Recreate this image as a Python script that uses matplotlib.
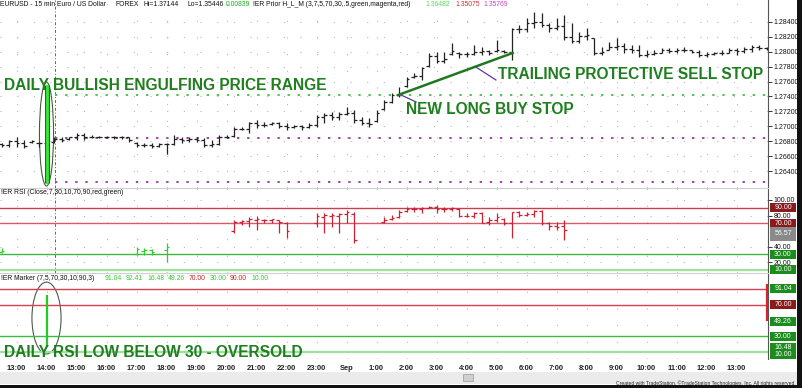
import numpy as np
import matplotlib
matplotlib.use("Agg")
import matplotlib.pyplot as plt
from matplotlib.patches import Ellipse, Rectangle
from matplotlib.transforms import blended_transform_factory

plt.rcParams['font.family'] = ['Liberation Sans', 'DejaVu Sans']

# x axis is hours after 13:00, one bar every 15 minutes, first bar at 12:30
hour_labels = ['13:00', '14:00', '15:00', '16:00', '17:00', '18:00', '19:00', '20:00',
               '21:00', '22:00', '23:00', 'Sep', '1:00', '2:00', '3:00', '4:00', '5:00',
               '6:00', '7:00', '8:00', '9:00', '10:00', '11:00', '12:00', '13:00']

price_open = [1.2676, 1.2675, 1.2680, 1.2678, 1.2679, 1.2678, 1.2677, 1.2679, 1.2683, 1.2683,
              1.2685, 1.2688, 1.2685, 1.2686, 1.2686, 1.2686, 1.2685, 1.2686, 1.2678, 1.2675,
              1.2675, 1.2674, 1.2676, 1.2676, 1.2683, 1.2682, 1.2683, 1.2682, 1.2675, 1.2676,
              1.2686, 1.2687, 1.2697, 1.2697, 1.2704, 1.2702, 1.2703, 1.2704, 1.2701, 1.2699,
              1.2700, 1.2699, 1.2702, 1.2713, 1.2715, 1.2713, 1.2716, 1.2718, 1.2708, 1.2705,
              1.2707, 1.2723, 1.2732, 1.2742, 1.2754, 1.2766, 1.2768, 1.2781, 1.2795, 1.2788,
              1.2797, 1.2799, 1.2797, 1.2797, 1.2800, 1.2801, 1.2801, 1.2801, 1.2800, 1.2830,
              1.2830, 1.2838, 1.2840, 1.2836, 1.2832, 1.2835, 1.2820, 1.2815, 1.2821, 1.2818,
              1.2798, 1.2803, 1.2806, 1.2808, 1.2804, 1.2803, 1.2796, 1.2797, 1.2799, 1.2802,
              1.2801, 1.2802, 1.2802, 1.2800, 1.2796, 1.2797, 1.2798, 1.2799, 1.2802, 1.2801,
              1.2804, 1.2806, 1.2805]
price_high = [1.2678, 1.2682, 1.2686, 1.2682, 1.2682, 1.2679, 1.2679, 1.2686, 1.2686, 1.2686,
              1.2691, 1.2691, 1.2688, 1.2687, 1.2687, 1.2687, 1.2687, 1.2686, 1.2679, 1.2678,
              1.2678, 1.2678, 1.2678, 1.2688, 1.2686, 1.2686, 1.2686, 1.2684, 1.2682, 1.2688,
              1.2688, 1.2699, 1.2699, 1.2706, 1.2709, 1.2706, 1.2706, 1.2706, 1.2705, 1.2702,
              1.2702, 1.2705, 1.2715, 1.2718, 1.2719, 1.2719, 1.2726, 1.2722, 1.2713, 1.2711,
              1.2722, 1.2735, 1.2745, 1.2753, 1.2766, 1.2772, 1.2780, 1.2798, 1.2800, 1.2800,
              1.2812, 1.2800, 1.2800, 1.2809, 1.2806, 1.2802, 1.2816, 1.2802, 1.2832, 1.2836,
              1.2845, 1.2853, 1.2852, 1.2839, 1.2845, 1.2849, 1.2839, 1.2827, 1.2832, 1.2819,
              1.2806, 1.2813, 1.2819, 1.2812, 1.2809, 1.2809, 1.2802, 1.2802, 1.2805, 1.2805,
              1.2805, 1.2806, 1.2802, 1.2802, 1.2800, 1.2800, 1.2802, 1.2805, 1.2805, 1.2806,
              1.2809, 1.2809, 1.2806]
price_low = [1.2672, 1.2672, 1.2672, 1.2671, 1.2678, 1.2672, 1.2675, 1.2678, 1.2679, 1.2682,
             1.2682, 1.2682, 1.2684, 1.2684, 1.2684, 1.2683, 1.2683, 1.2679, 1.2672, 1.2672,
             1.2671, 1.2672, 1.2663, 1.2675, 1.2678, 1.2679, 1.2679, 1.2672, 1.2672, 1.2675,
             1.2684, 1.2686, 1.2695, 1.2691, 1.2698, 1.2699, 1.2702, 1.2698, 1.2695, 1.2698,
             1.2695, 1.2698, 1.2699, 1.2705, 1.2709, 1.2709, 1.2715, 1.2705, 1.2702, 1.2699,
             1.2706, 1.2722, 1.2731, 1.2739, 1.2753, 1.2765, 1.2762, 1.2780, 1.2785, 1.2785,
             1.2796, 1.2792, 1.2793, 1.2796, 1.2796, 1.2796, 1.2800, 1.2798, 1.2789, 1.2825,
             1.2827, 1.2832, 1.2833, 1.2827, 1.2829, 1.2816, 1.2812, 1.2812, 1.2816, 1.2796,
             1.2796, 1.2802, 1.2802, 1.2798, 1.2798, 1.2793, 1.2793, 1.2796, 1.2798, 1.2798,
             1.2798, 1.2800, 1.2798, 1.2793, 1.2793, 1.2796, 1.2796, 1.2798, 1.2796, 1.2798,
             1.2800, 1.2802, 1.2802]
price_close = [1.2675, 1.2680, 1.2678, 1.2674, 1.2680, 1.2677, 1.2677, 1.2683, 1.2682, 1.2685,
               1.2688, 1.2685, 1.2686, 1.2686, 1.2686, 1.2685, 1.2686, 1.2681, 1.2675, 1.2675,
               1.2674, 1.2676, 1.2676, 1.2683, 1.2682, 1.2683, 1.2682, 1.2675, 1.2676, 1.2686,
               1.2686, 1.2697, 1.2697, 1.2704, 1.2702, 1.2702, 1.2704, 1.2701, 1.2699, 1.2700,
               1.2699, 1.2702, 1.2713, 1.2715, 1.2713, 1.2716, 1.2718, 1.2708, 1.2705, 1.2703,
               1.2718, 1.2732, 1.2742, 1.2744, 1.2764, 1.2768, 1.2778, 1.2795, 1.2788, 1.2790,
               1.2801, 1.2797, 1.2797, 1.2800, 1.2801, 1.2799, 1.2802, 1.2800, 1.2830, 1.2830,
               1.2838, 1.2840, 1.2836, 1.2832, 1.2835, 1.2820, 1.2815, 1.2821, 1.2822, 1.2798,
               1.2800, 1.2806, 1.2808, 1.2804, 1.2803, 1.2796, 1.2797, 1.2799, 1.2802, 1.2801,
               1.2802, 1.2803, 1.2800, 1.2796, 1.2797, 1.2798, 1.2799, 1.2802, 1.2801, 1.2804,
               1.2806, 1.2805, 1.2804]

# prior day levels (H / mid / L) and the engulfing day range
prior_high = 1.27420
prior_mid = 1.26843
prior_low = 1.26253
engulf_range = (1.26239, 1.27554)
buy_stop = (12.72, 1.27420)
trail_end = (16.54, 1.27984)

# ER RSI, only extreme bars are painted
rsi_idx = [0, 18, 19, 20, 22, 31, 32, 33, 34, 35, 36, 37, 38, 42, 43, 44, 45, 46, 47,
           51, 52, 53, 54, 55, 56, 57, 58, 59, 60, 61, 62, 63, 64, 65, 66, 67, 68, 69, 70,
           71, 72, 73, 74, 75]
rsi_open = [33, 31, 34, 36, 36, 60, 72, 73, 74, 74, 74, 74, 70, 70, 78, 80, 80, 82, 82,
            72, 75, 78, 86, 88, 88, 90, 91, 88, 89, 88, 80, 80, 83, 72, 74, 76, 70, 84, 81,
            82, 86, 70, 67, 66]
rsi_high = [38.3, 39.6, 38.3, 37.0, 44.7, 74.3, 74.3, 78.1, 79.4, 75.6, 75.6, 74.3, 71.7,
            83.3, 83.3, 83.3, 83.3, 87.1, 84.6, 78.1, 80.7, 87.1, 91.0, 91.0, 91.0, 92.3,
            93.6, 91.0, 91.0, 89.7, 83.3, 84.6, 84.6, 78.1, 83.3, 76.9, 84.6, 85.9, 84.6,
            87.1, 87.1, 71.7, 71.7, 74.3]
rsi_low = [31.9, 29.3, 29.3, 29.3, 20.3, 57.6, 67.9, 65.3, 61.4, 70.4, 70.4, 57.6, 51.2,
           65.3, 57.6, 65.3, 57.6, 70.4, 44.7, 70.4, 74.3, 76.9, 84.6, 84.6, 83.3, 89.7,
           83.3, 84.6, 85.9, 78.1, 78.1, 76.9, 70.4, 67.9, 71.7, 67.9, 51.2, 78.1, 79.4,
           78.1, 67.9, 61.4, 61.4, 48.6]
rsi_close = [35, 37, 36, 33, 40, 72, 73, 76, 76, 74, 75, 72, 60, 80, 81, 81, 82, 84, 48,
             74, 77, 85, 88, 88, 90, 91, 88, 89, 90, 79, 80, 83, 71, 74, 78, 70, 84, 81, 82,
             86, 70, 67, 65, 62]
rsi_green = [True] * 5 + [False] * 39

# ER Marker
marker_idx = [6, 102]
marker_high = [82.0, 96.0]
marker_low = [16.48, 49.26]
marker_col = ['#22cc22', '#dd2233']

t = -0.5 + 0.25 * np.arange(len(price_close))

W, H = 802, 388
fig = plt.figure(figsize=(W / 100, H / 100), dpi=100)
fig.patch.set_facecolor('white')


def fx(x):
    return x / W


def fy(y):
    return 1 - y / H


ax_p = fig.add_axes([0, fy(188), fx(768), 188 / H])
ax_r = fig.add_axes([0, fy(273), fx(768), 85 / H], sharex=ax_p)
ax_m = fig.add_axes([0, fy(359), fx(768), 86 / H], sharex=ax_p)

grid_ls = (0, (1, 14))
for ax in (ax_p, ax_r, ax_m):
    ax.set_facecolor('white')
    for s in ('left', 'top', 'bottom'):
        ax.spines[s].set_visible(False)
    ax.spines['right'].set_color('#555555')
    ax.spines['right'].set_linewidth(0.8)
    ax.yaxis.tick_right()
    ax.tick_params(axis='y', labelsize=5, length=3, width=0.6, pad=1, colors='#111111')
    ax.tick_params(axis='x', length=0)
    ax.grid(True, color='#b8b8b8', linestyle=grid_ls, linewidth=0.8)
    ax.set_axisbelow(True)

ax_r.spines['top'].set_visible(True)
ax_r.spines['top'].set_color('#d0d0d0')
ax_m.spines['top'].set_visible(True)
ax_m.spines['top'].set_color('#d0d0d0')

ax_p.set_xlim(-0.55, 25.05)
ax_m.set_xticks(range(len(hour_labels)))
ax_m.set_xticklabels(hour_labels, fontsize=5.4, fontweight='bold', color='#222222')
ax_m.tick_params(axis='x', pad=4)
plt.setp(ax_p.get_xticklabels(), visible=False)
plt.setp(ax_r.get_xticklabels(), visible=False)

# ---- price panel
ax_p.set_ylim(1.26172, 1.28695)
ax_p.set_yticks(np.arange(1.264, 1.2841, 0.002))
ax_p.yaxis.set_major_formatter(matplotlib.ticker.FormatStrFormatter('%.5f'))

ax_p.axvline(1.27, color='#666666', lw=0.7, ls=(0, (3, 2, 1, 2)))
ax_p.hlines(prior_high, 1.27, 25.05, color='#55c055', lw=1.4, ls=(0, (1.2, 4)))
ax_p.hlines([prior_mid, prior_low], 1.27, 25.05, color='#a040b0', lw=1.4, ls=(0, (1.2, 4)))

bw = 0.085
ax_p.vlines(t, price_low, price_high, color='#222222', lw=0.9)
ax_p.hlines(price_open, t - bw, t, color='#222222', lw=0.9)
ax_p.hlines(price_close, t, t + bw, color='#222222', lw=0.9)

ax_p.vlines(1.0, *engulf_range, color='#1f6f1f', lw=3.6)
ax_p.vlines(1.0, *engulf_range, color='#33ee33', lw=2.0)
ax_p.add_patch(Ellipse((1.0, 1.26897), 0.47, 0.01396, fill=False, ec='#4a5a4a', lw=0.8))

ax_p.plot([buy_stop[0], trail_end[0]], [buy_stop[1], trail_end[1]], color='#1f7a1f', lw=1.8)
ax_p.plot([15.31, 15.98], [1.27796, 1.27622], color='#5a3c9a', lw=0.9)
ax_p.plot([12.82, 13.32], [1.27420, 1.27326], color='#5a3c9a', lw=0.9)

txt_kw = dict(color='#1f7f1f', fontweight='bold', va='center', ha='left', fontsize=11.2)
ax_p.text(-0.43, 1.27554, 'DAILY BULLISH ENGULFING PRICE RANGE', **txt_kw)
ax_p.text(16.05, 1.27689, 'TRAILING PROTECTIVE SELL STOP', **txt_kw)
ax_p.text(12.98, 1.27232, 'NEW LONG BUY STOP', **txt_kw)

# ---- RSI panel
ax_r.set_ylim(6.1, 115.4)
ax_r.set_yticks([20, 40, 80, 100])
ax_r.yaxis.set_major_formatter(matplotlib.ticker.FormatStrFormatter('%.2f'))
ax_r.axvline(1.27, color='#666666', lw=0.7, ls=(0, (3, 2, 1, 2)))
ax_r.axhline(90, color='#c8404e', lw=1.0)
ax_r.axhline(70, color='#d85a68', lw=1.0)
ax_r.axhline(30, color='#3fb83f', lw=1.0)
ax_r.axhline(10, color='#9ee09e', lw=1.6)

rt = -0.5 + 0.25 * np.array(rsi_idx)
rc = ['#33cc33' if g else '#cc2233' for g in rsi_green]
ax_r.vlines(rt, rsi_low, rsi_high, colors=rc, lw=0.9)
ax_r.hlines(rsi_open, rt - bw, rt, colors=rc, lw=0.9)
ax_r.hlines(rsi_close, rt, rt + bw, colors=rc, lw=0.9)

# ---- Marker panel
ax_m.set_ylim(1, 110.6)
ax_m.set_yticks([])
ax_m.axhline(90, color='#d84050', lw=1.0)
ax_m.axhline(70, color='#d84050', lw=1.0)
ax_m.axhline(30, color='#3fb83f', lw=1.0)
ax_m.axhline(10, color='#9ee09e', lw=1.6)
mt = -0.5 + 0.25 * np.array(marker_idx)
ax_m.vlines(mt, marker_low, marker_high, colors=marker_col, lw=1.6)
ax_m.add_patch(Ellipse((1.0, 53.2), 0.97, 91.6, fill=False, ec='#4a5a4a', lw=0.8))
ax_m.text(-0.43, 8.7, 'DAILY RSI LOW BELOW 30 - OVERSOLD', **txt_kw)


# ---- colored value boxes on right scale (about 9 px tall)
def box(ax, val, text, fc, h=11.6):
    tr = blended_transform_factory(ax.transAxes, ax.transData)
    ax.add_patch(Rectangle((1.002, val - h / 2), 0.0345, h, transform=tr, fc=fc,
                           ec='none', clip_on=False, zorder=5))
    ax.text(1.0195, val, text, transform=tr, fontsize=5, color='white', ha='center',
            va='center', clip_on=False, zorder=6)


dred, green, gray = '#8b1a1a', '#1c8c1c', '#8a8a8a'
box(ax_r, 90, '90.00', dred)
box(ax_r, 70, '70.00', dred)
box(ax_r, 56.3, '56.57', gray, h=18)
box(ax_r, 30, '30.00', green)
box(ax_r, 10, '10.00', green)
box(ax_m, 7, '10.00', green)
box(ax_m, 91.04, '91.04', green)
box(ax_m, 70, '70.00', dred)
box(ax_m, 49.26, '49.26', green)
box(ax_m, 30, '30.00', green)
box(ax_m, 15.5, '16.48', green, h=13)

# ---- headers
hs = 4.9
hy = fy(5)
for x, s, c in [(0, 'EURUSD - 15 min', '#111111'), (57, 'Euro / US Dollar', '#111111'),
                (115, 'FOREX', '#111111'), (144, 'Hi=1.37144', '#111111'),
                (187, 'Lo=1.35446', '#111111'), (226, '0.00839', '#22aa22'),
                (253, '!ER Prior H_L_M (3,7,5,70,30,.5,green,magenta,red)', '#111111'),
                (425, '1.36482', '#55dd55'), (455, '1.35075', '#cc3333'),
                (483, '1.35769', '#cc44cc')]:
    fig.text(fx(x), hy, s, fontsize=hs, color=c, va='center', ha='left')

fig.text(fx(1), fy(192), '!ER RSI (Close,7,30,10,70,90,red,green)', fontsize=hs,
         color='#111111', va='center')
my = fy(278)
for x, s, c in [(1, '!ER Marker (7,5,70,30,10,90,3)', '#111111'), (105, '91.04', '#33cc33'),
                (126, '92.41', '#33cc33'), (147, '16.48', '#33cc33'), (168, '49.26', '#33cc33'),
                (189, '70.00', '#cc2222'), (210, '30.00', '#33cc33'), (230, '90.00', '#cc2222'),
                (251, '10.00', '#33cc33')]:
    fig.text(fx(x), my, s, fontsize=hs, color=c, va='center', ha='left')

# ---- frame pieces: scrollbar, status bar, right edge
fig.add_artist(Rectangle((0, fy(384)), fx(797), 12 / H, transform=fig.transFigure,
                         fc='#ebebeb', ec='none'))
fig.add_artist(Rectangle((fx(463), fy(381)), fx(10), 7 / H, transform=fig.transFigure,
                         fc='#cfcfcf', ec='#9a9a9a', lw=0.5))
fig.add_artist(Rectangle((0, 0), fx(797), 3 / H, transform=fig.transFigure,
                         fc='#111111', ec='none'))
fig.add_artist(Rectangle((fx(797), 0), fx(5), 1, transform=fig.transFigure,
                         fc='#111111', ec='none'))
fig.text(fx(796), fy(383), 'Created with TradeStation. \u00a9TradeStation Technologies, Inc. All rights reserved.',
         fontsize=3.6, ha='right', va='center', color='#222222')

fig.savefig('out.png', dpi=100)
